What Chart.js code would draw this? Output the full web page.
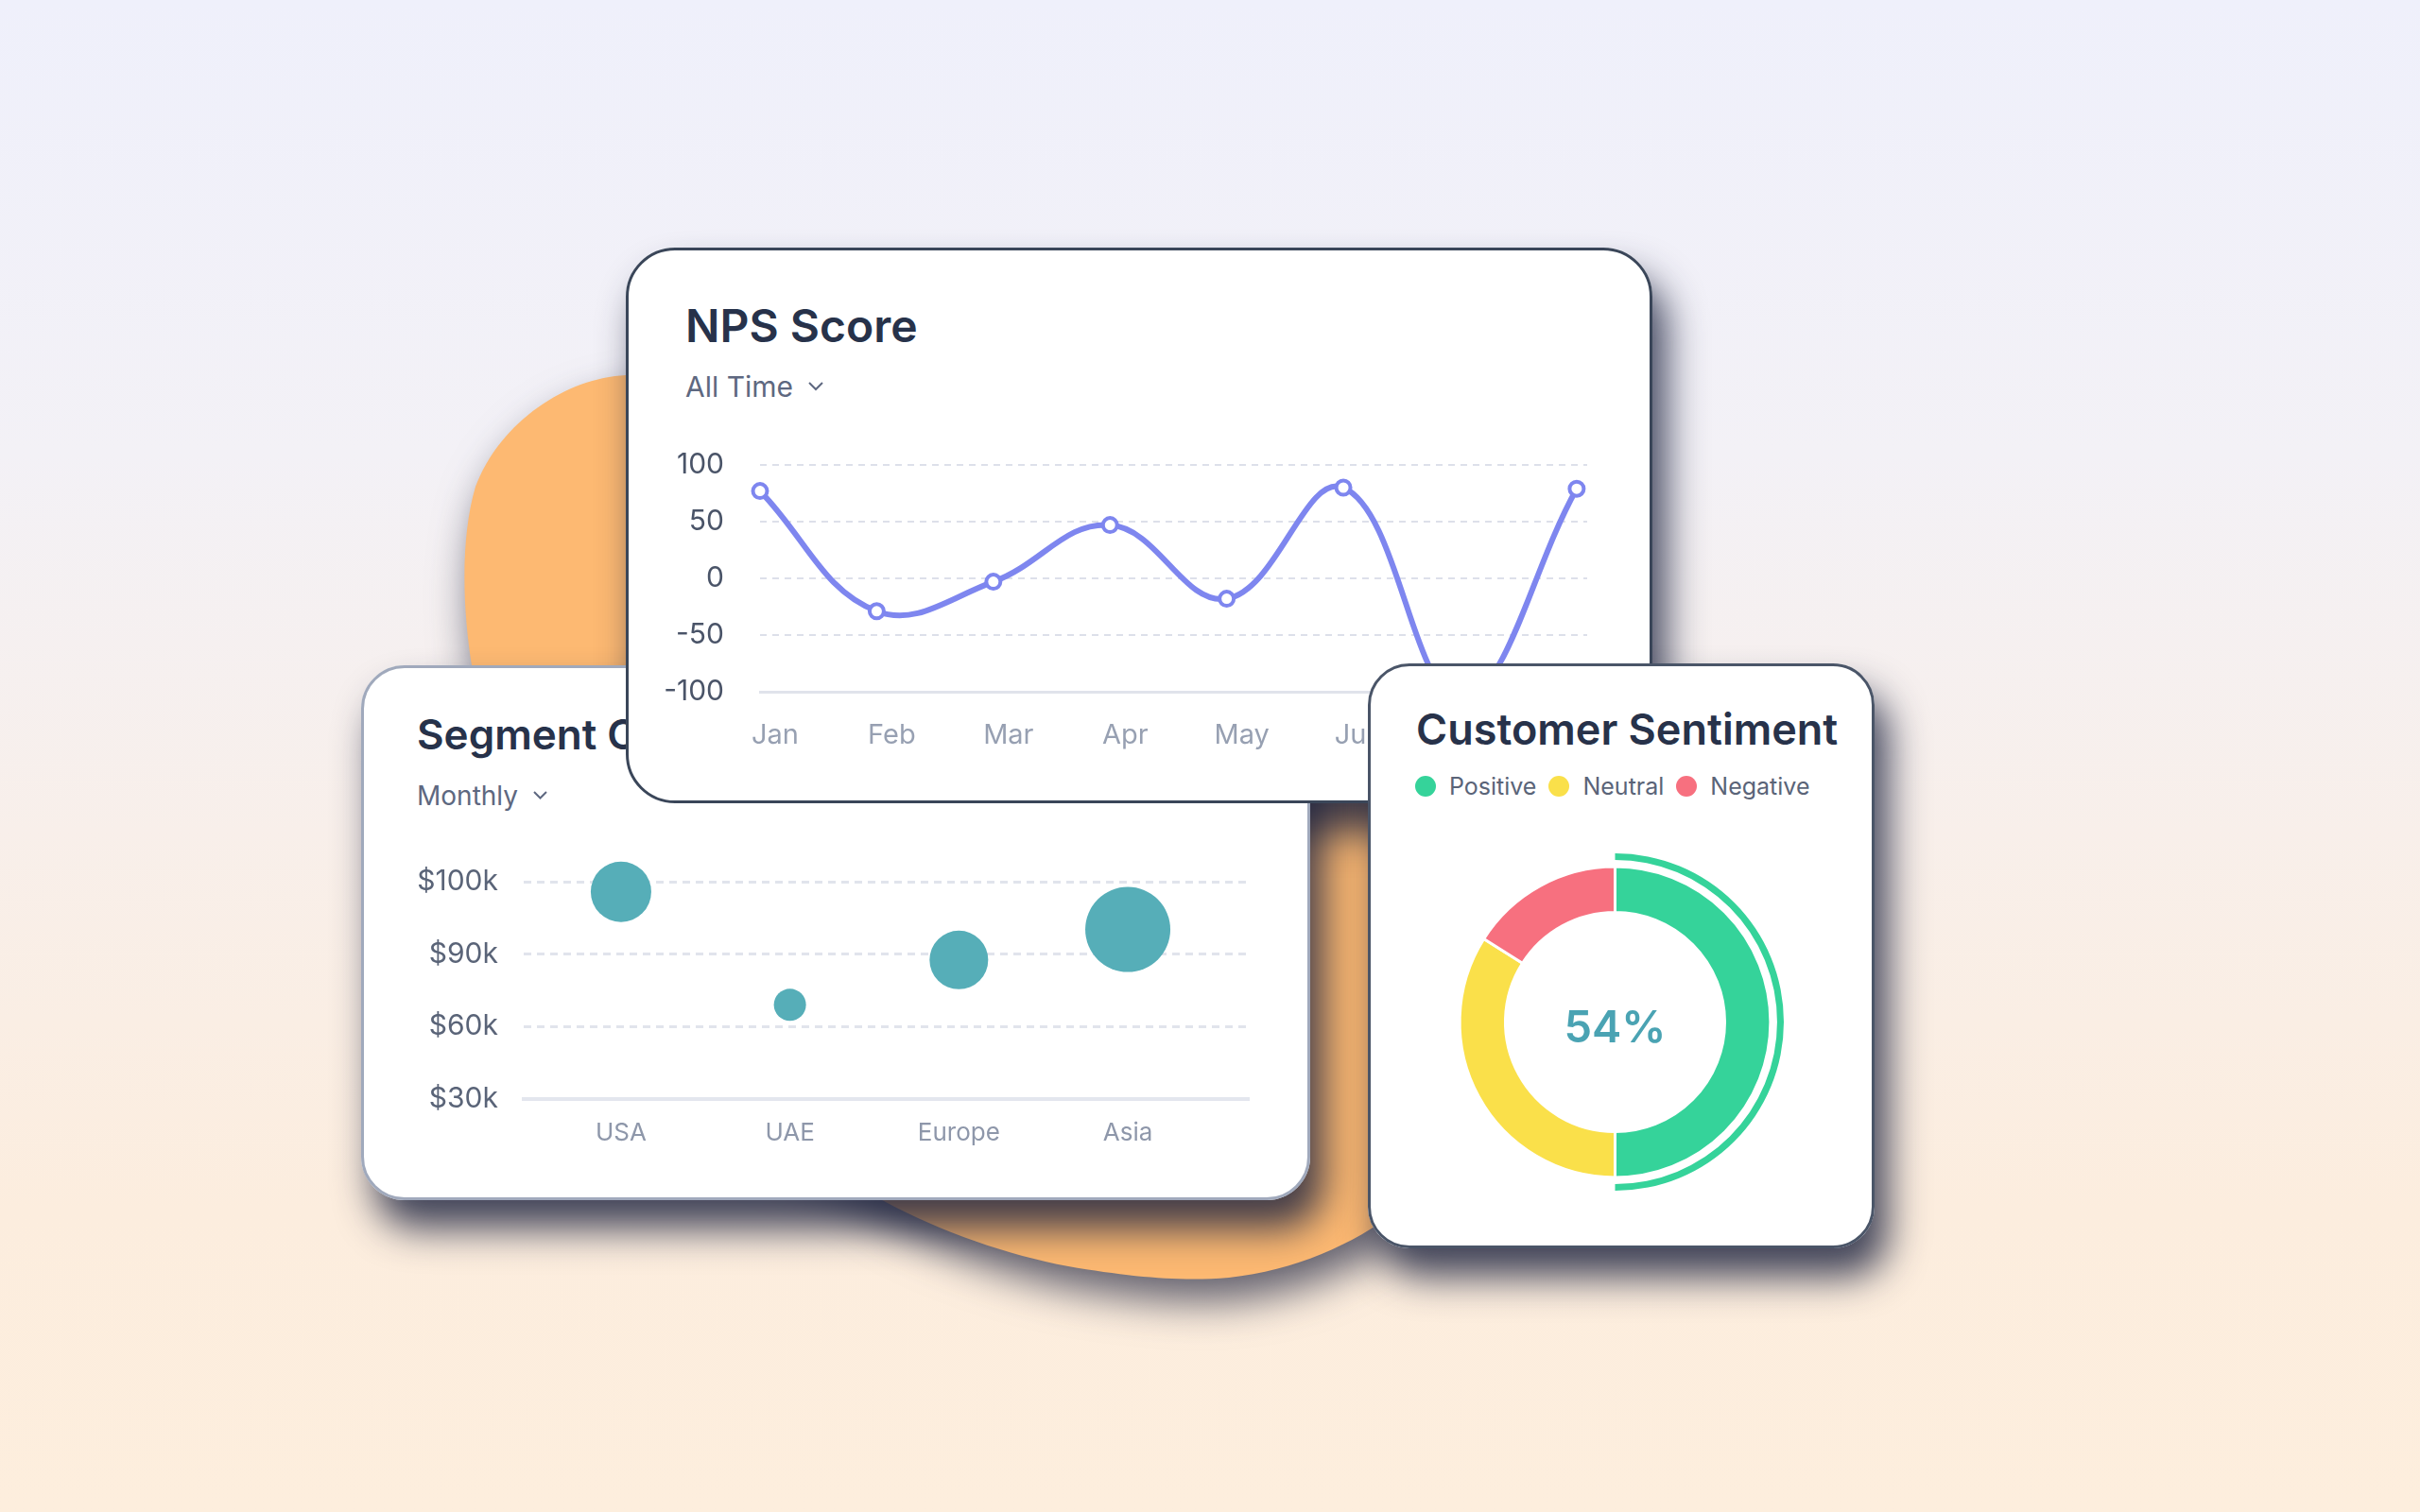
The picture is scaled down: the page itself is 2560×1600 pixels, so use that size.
<!DOCTYPE html>
<html>
<head>
<meta charset="utf-8">
<title>Customer dashboard</title>
<script src="https://cdn.jsdelivr.net/npm/chart.js@4.4.0/dist/chart.umd.min.js"></script>
<style>
  html, body { margin: 0; padding: 0; }
  body {
    width: 2560px; height: 1600px; position: relative; overflow: hidden;
    background: linear-gradient(180deg, #eff0fb 0%, #f3f1f6 30%, #f8efea 55%, #fcedde 80%, #fdeedd 100%);
    font-family: Inter, "Noto Sans", sans-serif;
  }
  #blob { position: absolute; left: 0; top: 0; z-index: 0; filter: drop-shadow(8px 24px 22px rgba(35, 40, 66, 0.7)); }
  .shadow, .card { position: absolute; box-sizing: border-box; background: #fff; }
  .shadow { z-index: 1; box-shadow: 14px 30px 40px rgba(33, 39, 66, 0.85); }
  .nps { left: 662px; top: 262px; width: 1086px; height: 588px; border-radius: 52px; }
  .seg { left: 382px; top: 704px; width: 1004px; height: 566px; border-radius: 46px; }
  .sent { left: 1447px; top: 702px; width: 536px; height: 619px; border-radius: 44px; }
  #npsCard { z-index: 3; border: 3px solid #3a4659; }
  #segCard { z-index: 2; border: 3px solid #a0a9bc; }
  #sentCard { z-index: 4; border: 3px solid #4a5568; }
  .title { position: absolute; font-weight: 600; color: #27324a; white-space: nowrap; line-height: 1; }
  .sub { position: absolute; color: #5e6880; white-space: nowrap; line-height: 1; }
  .sub svg { margin-left: 16px; vertical-align: middle; position: relative; top: -3px; }
  canvas { position: absolute; }
  #sentLegend { position: absolute; left: 47px; top: 114px; display: flex; gap: 13px; font-size: 25px; line-height: 26px; color: #5a6478; }
  #sentLegend span { display: flex; align-items: center; }
  #sentLegend i { width: 22px; height: 22px; border-radius: 50%; margin-right: 14px; display: inline-block; }
</style>
</head>
<body>

<svg id="blob" width="2560" height="1600">
  <path fill="#fdb972" d="M 662 397
    C 600 400, 530 445, 503 515
    C 488 565, 488 640, 500 710
    L 700 1150 L 900 1250
    C 960 1290, 1050 1325, 1130 1340
    C 1200 1352, 1250 1356, 1300 1352
    C 1370 1344, 1430 1318, 1480 1280
    L 1560 1100 L 1580 700 L 1550 330 L 900 300 Z"/>
</svg>

<div class="shadow nps"></div>
<div class="shadow seg"></div>
<div class="shadow sent"></div>

<div id="segCard" class="card seg">
  <div class="title" style="left:56px; top:48px; font-size:44px;">Segment Comparison</div>
  <div class="sub" style="left:56px; top:121px; font-size:28px;">Monthly<svg width="15" height="9" viewBox="0 0 15 9"><polyline points="1,1 7.5,7.5 14,1" fill="none" stroke="#5e6880" stroke-width="2"/></svg></div>
  <canvas id="segCanvas" width="921" height="323" style="left:35px; top:193px;"></canvas>
</div>

<div id="npsCard" class="card nps">
  <div class="title" style="left:60px; top:56px; font-size:48px;">NPS Score</div>
  <div class="sub" style="left:60px; top:129px; font-size:30px;">All Time<svg width="16" height="10" viewBox="0 0 16 10"><polyline points="1,1 8,8 15,1" fill="none" stroke="#5e6880" stroke-width="2"/></svg></div>
  <canvas id="npsCanvas" width="1000" height="341" style="left:35px; top:195px;"></canvas>
</div>

<div id="sentCard" class="card sent">
  <div class="title" style="left:48px; top:44px; font-size:45px;">Customer Sentiment</div>
  <div id="sentLegend"></div>
  <canvas id="sentCanvas" width="357" height="357" style="left:80px; top:198px;"></canvas>
</div>

<script>
// NPS
const npsMonths = ["Jan", "Feb", "Mar", "Apr", "May", "Jun", "Jul", "Aug"];
const npsScores = [77, -29, -3, 47, -18, 80, -105, 79];

// Segment comparison
const segRegions = ["USA", "UAE", "Europe", "Asia"];
const segRevenueTicks = ["$30k", "$60k", "$90k", "$100k"];
const segLevels = [2.86, 1.3, 1.92, 2.34];
const segSizes = [32, 17, 31, 45];

// Sentiment
const sentimentLabels = ["Positive", "Neutral", "Negative"];
const sentimentValues = [50, 34, 16];
const sentimentCenter = "54%";
const sentimentColors = ["#35d39a", "#fae04a", "#f7707f"];

Chart.defaults.font.family = "Inter";

const npsCanvas = document.getElementById("npsCanvas");
const segCanvas = document.getElementById("segCanvas");
const sentCanvas = document.getElementById("sentCanvas");

const noPlugins = { legend: { display: false }, tooltip: { enabled: false } };

// keep the plot area where the padding puts it (no extra room for edge labels)
const fixX = (h) => (scale) => { scale.height = h; scale.paddingLeft = 0; scale.paddingRight = 0; };
const fixY = (w) => (scale) => { scale.width = w; scale.paddingTop = 0; scale.paddingBottom = 0; };

const npsChart = new Chart(npsCanvas, {
    type: "line",
    data: {
        datasets: [
            {
                label: "NPS",
                data: npsScores.map((v, i) => ({ x: i, y: v })),
                clip: false,
                borderColor: "#7e86ef",
                borderWidth: 6,
                tension: 0.4,
                pointRadius: 7.5,
                pointBorderWidth: 4,
                pointBackgroundColor: "#fff",
                pointBorderColor: "#7e86ef",
            },
        ],
    },
    options: {
        responsive: false,
        animation: false,
        layout: { padding: { top: 32, right: 21 } },
        plugins: noPlugins,
        scales: {
            x: {
                type: "linear",
                min: 0,
                max: 7.09,
                afterBuildTicks: (scale) => { scale.ticks = npsMonths.map((m, i) => ({ value: i })); },
                afterFit: fixX(69),
                grid: { display: false, drawTicks: false },
                border: { color: "#e0e3eb", width: 3 },
                ticks: {
                    callback: (v) => npsMonths[v],
                    color: "#97a0b2",
                    font: { size: 29 },
                    padding: 29,
                    labelOffset: 16,
                    maxRotation: 0,
                    autoSkip: false,
                },
            },
            y: {
                min: -100,
                max: 100,
                afterFit: fixY(104),
                grid: { color: "#dde0ea", lineWidth: 2, drawTicks: false },
                border: { display: false, dash: [7, 6] },
                ticks: { stepSize: 50, color: "#4a5468", font: { size: 30 }, padding: 38 },
            },
        },
    },
});

const segChart = new Chart(segCanvas, {
    type: "bubble",
    data: {
        datasets: [
            {
                label: "Segments",
                data: segRegions.map((r, i) => ({ x: i, y: segLevels[i], r: segSizes[i] })),
                clip: false,
                backgroundColor: "#56aeb8",
                borderWidth: 0,
            },
        ],
    },
    options: {
        responsive: false,
        animation: false,
        layout: { autoPadding: false, padding: { top: 33, right: 20 } },
        plugins: noPlugins,
        scales: {
            x: {
                type: "linear",
                min: -0.576,
                max: 3.716,
                afterBuildTicks: (scale) => { scale.ticks = segRegions.map((r, i) => ({ value: i })); },
                afterFit: fixX(60),
                grid: { display: false, drawTicks: false },
                border: { color: "#e3e6ee", width: 4 },
                ticks: {
                    callback: (v) => segRegions[v],
                    color: "#8e97aa",
                    font: { size: 26 },
                    padding: 21,
                    maxRotation: 0,
                    autoSkip: false,
                },
            },
            y: {
                min: 0,
                max: 3,
                afterBuildTicks: (scale) => { scale.ticks = segRevenueTicks.map((t, i) => ({ value: i })); },
                afterFit: fixY(134),
                grid: { color: "#e1e4ec", lineWidth: 3, drawTicks: false },
                border: { display: false, dash: [8, 6] },
                ticks: {
                    callback: (v) => segRevenueTicks[v],
                    color: "#5a6478",
                    font: { size: 30 },
                    padding: 27,
                    autoSkip: false,
                },
            },
        },
    },
});

// percentage in the hole of the doughnut
const centerText = {
    id: "centerText",
    afterDraw(chart) {
        const { ctx, chartArea } = chart;
        const x = (chartArea.left + chartArea.right) / 2;
        const y = (chartArea.top + chartArea.bottom) / 2;
        ctx.save();
        ctx.font = "600 47px Inter";
        ctx.fillStyle = "#4aa3b3";
        ctx.textAlign = "center";
        ctx.textBaseline = "alphabetic";
        ctx.fillText(sentimentCenter, x, y + 21);
        ctx.restore();
    },
};

const sentChart = new Chart(sentCanvas, {
    type: "doughnut",
    data: {
        labels: sentimentLabels,
        datasets: [
            {
                data: sentimentValues,
                backgroundColor: [sentimentColors[0], "transparent", "transparent"],
                borderWidth: 0,
                weight: 7,
            },
            { data: [1], backgroundColor: "transparent", borderWidth: 0, weight: 7 },
            {
                data: sentimentValues,
                backgroundColor: sentimentColors,
                borderColor: "#fff",
                borderWidth: 3,
                weight: 48,
            },
        ],
    },
    options: {
        responsive: false,
        animation: false,
        cutout: "65%",
        plugins: noPlugins,
    },
    plugins: [centerText],
});

const legendBox = document.getElementById("sentLegend");
sentimentLabels.forEach((label, i) => {
    legendBox.innerHTML += `<span><i style="background:${sentimentColors[i]}"></i>${label}</span>`;
});
</script>
</body>
</html>
